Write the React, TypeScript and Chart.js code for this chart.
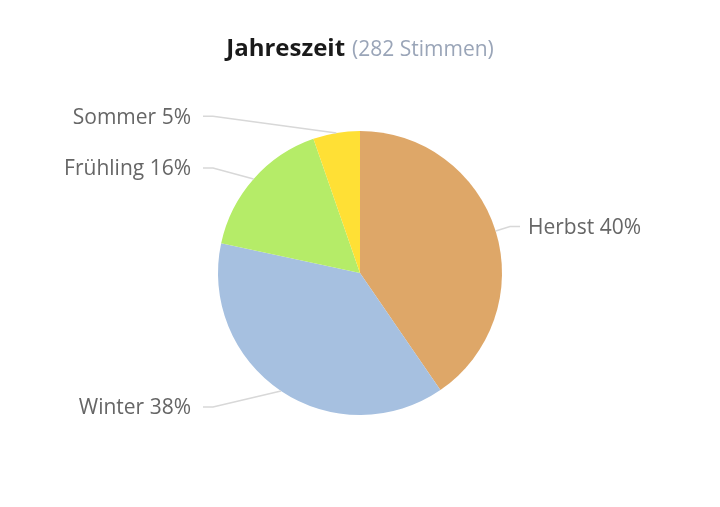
import React, { useEffect, useRef } from "react";
import { Chart, registerables } from "chart.js";

Chart.register(...registerables);

const titleText = "Jahreszeit";
const subtitleText = "(282 Stimmen)";
const categories = ["Herbst", "Winter", "Frühling", "Sommer"];
const votes = [114, 107, 46, 15];
const colors = ["#DEA768", "#A6C0E0", "#B5EC68", "#FFE035"];

const FONT = "'Open Sans', sans-serif";

const labelPlugin = {
  id: "pieLabels",
  afterDraw(chart: any) {
    const ctx = chart.ctx;
    const meta = chart.getDatasetMeta(0);
    const total = votes.reduce((a, b) => a + b, 0);
    ctx.save();
    meta.data.forEach((arc: any, i: number) => {
      const { x, y, startAngle, endAngle, outerRadius } = arc.getProps(
        ["x", "y", "startAngle", "endAngle", "outerRadius"],
        true
      );
      const mid = (startAngle + endAngle) / 2;
      const cos = Math.cos(mid);
      const sin = Math.sin(mid);
      const ex = x + cos * outerRadius;
      const ey = y + sin * outerRadius;
      const ly = y + sin * (outerRadius + 18) + 1;
      const right = cos >= 0;
      const lineStart = right ? x + outerRadius + 18 : x - outerRadius - 15;
      const bend = right ? lineStart - 10 : lineStart + 10;
      ctx.strokeStyle = "#d8d8d8";
      ctx.lineWidth = 1.5;
      ctx.beginPath();
      ctx.moveTo(lineStart, ly);
      ctx.lineTo(bend, ly);
      ctx.lineTo(ex, ey);
      ctx.stroke();
      const pct = Math.round((votes[i] / total) * 100);
      ctx.font = `21px ${FONT}`;
      ctx.fillStyle = "#666666";
      ctx.textBaseline = "middle";
      ctx.textAlign = right ? "left" : "right";
      ctx.fillText(`${categories[i]} ${pct}%`, right ? lineStart + 8 : lineStart - 12, ly + 1.5);
    });

    // title
    ctx.textBaseline = "alphabetic";
    ctx.textAlign = "left";
    const f1 = `bold 24px ${FONT}`;
    const f2 = `21px ${FONT}`;
    ctx.font = f1;
    const w1 = ctx.measureText(titleText).width;
    ctx.font = f2;
    const gap = 7;
    const w2 = ctx.measureText(subtitleText).width;
    const startX = chart.width / 2 - (w1 + gap + w2) / 2;
    ctx.font = f1;
    ctx.fillStyle = "#1a1a1a";
    ctx.fillText(titleText, startX, 56);
    ctx.font = f2;
    ctx.fillStyle = "#9AA5B8";
    ctx.fillText(subtitleText, startX + w1 + gap, 56);
    ctx.restore();
  },
};

export default function App() {
  const ref = useRef<HTMLCanvasElement>(null);
  useEffect(() => {
    if (!ref.current) return;
    const chart = new Chart(ref.current, {
      type: "pie",
      data: {
        labels: categories,
        datasets: [
          {
            data: votes,
            backgroundColor: colors,
            borderWidth: 0,
          },
        ],
      },
      options: {
        responsive: false,
        animation: false,
        layout: { padding: { left: 218, right: 218, top: 131, bottom: 92 } },
        plugins: {
          legend: { display: false },
          tooltip: { enabled: false },
          title: { display: false },
        },
      },
      plugins: [labelPlugin],
    });
    return () => chart.destroy();
  }, []);
  return (
    <div style={{ position: "fixed", left: 0, top: 0, width: 720, height: 507, background: "#fff" }}>
      <canvas ref={ref} width={720} height={507} />
    </div>
  );
}
